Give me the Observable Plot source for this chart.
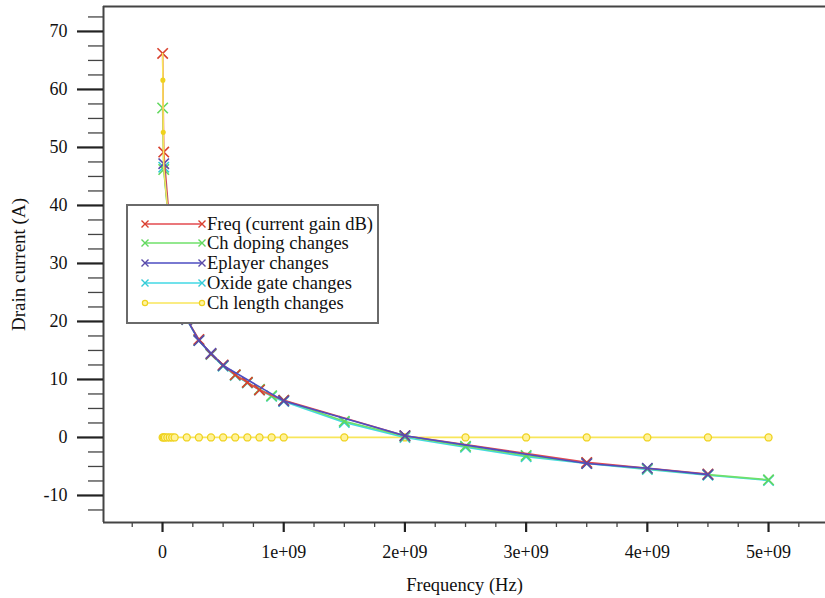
<!DOCTYPE html>
<html><head><meta charset="utf-8">
<script src="https://cdn.jsdelivr.net/npm/d3@7"></script>
<script src="https://cdn.jsdelivr.net/npm/@observablehq/plot@0.6"></script>
<style>
body{margin:0;background:#fff;}
#wrap{position:relative;width:825px;height:598px;background:#fff;}
</style></head><body><div id="wrap"></div>
<script>
// ---- data (frequency in Hz, value in dB) ----
const seriesNames = ["Freq (current gain dB)", "Ch doping changes", "Eplayer changes", "Oxide gate changes", "Ch length changes"];
const lineColors = ["#e34a4f", "#6fe06a", "#4d4dc2", "#42d9e4", "#f8e65a"];
const markColors = ["#d9412e", "#62d85e", "#5a4aa8", "#35cbd6", "#efd21e"];

const freqGain = [[1e6,66.2],[1e7,49.2],[1e8,26.4],[2e8,20.4],[3e8,16.9],[4e8,14.4],[5e8,12.5],[6e8,10.8],[7e8,9.5],[8e8,8.2],[1e9,6.4],[2e9,0.3],[3.5e9,-4.3],[4.5e9,-6.3]];
const chDoping = [[1e6,56.8],[1e7,46.2],[1e8,26.4],[2e8,20.4],[3e8,16.8],[4e8,14.4],[5e8,12.4],[6e8,10.8],[7e8,9.5],[8e8,8.3],[9e8,7.2],[1e9,6.4],[1.5e9,2.8],[2e9,0.2],[2.5e9,-1.5],[3e9,-3.1],[3.5e9,-4.4],[4e9,-5.4],[4.5e9,-6.4],[5e9,-7.3]];
const eplayer = [[1e7,47.2],[1e8,26.4],[2e8,20.4],[3e8,16.7],[4e8,14.5],[5e8,12.4],[1e9,6.3],[2e9,0.3],[3.5e9,-4.5],[4e9,-5.3],[4.5e9,-6.4]];
const oxideGate = [[1e7,46.6],[1e8,26.3],[2e8,20.3],[3e8,16.7],[4e8,14.3],[5e8,12.3],[6e8,10.7],[7e8,9.4],[8e8,8.2],[9e8,7.1],[1e9,6.2],[1.5e9,2.6],[2e9,0.0],[2.5e9,-1.7],[3e9,-3.3],[3.5e9,-4.5],[4e9,-5.5],[4.5e9,-6.5],[5e9,-7.4]];
const chLengthCurve = [[1e6,66.2],[3e6,61.6],[6e6,52.6],[1e7,46.6],[1e8,26.4],[2e8,20.4]];
const chLengthFlat = [[1e6,0],[1e7,0],[2e7,0],[4e7,0],[6e7,0],[8e7,0],[1e8,0],[2e8,0],[3e8,0],[4e8,0],[5e8,0],[6e8,0],[7e8,0],[8e8,0],[9e8,0],[1e9,0],[1.5e9,0],[2e9,0],[2.5e9,0],[3e9,0],[3.5e9,0],[4e9,0],[4.5e9,0],[5e9,0]];

// ---- axes ----
const xMajorTicks = [0, 1e9, 2e9, 3e9, 4e9, 5e9];
const xTickLabels = ["0", "1e+09", "2e+09", "3e+09", "4e+09", "5e+09"];
const xMinorTicks = [-0.25e9,0.25e9,0.5e9,0.75e9,1.25e9,1.5e9,1.75e9,2.25e9,2.5e9,2.75e9,3.25e9,3.5e9,3.75e9,4.25e9,4.5e9,4.75e9,5.25e9];
const yMajorTicks = [-10, 0, 10, 20, 30, 40, 50, 60, 70];
const yTickLabels = ["-10", "0", "10", "20", "30", "40", "50", "60", "70"];
const yMinorTicks = [-12.5,-7.5,-5,-2.5,2.5,5,7.5,12.5,15,17.5,22.5,25,27.5,32.5,35,37.5,42.5,45,47.5,52.5,55,57.5,62.5,65,67.5,72.5];
const xDomain = [-0.487e9, 5.47e9];
const yDomain = [-14.66, 74.3];
const xTitle = "Frequency (Hz)";
const yTitle = "Drain current (A)";

const toRows = (pts, name, seg) => pts.map(([x, y]) => ({x, y, name, seg}));
const S = [
  {i: 3, rows: toRows(oxideGate, seriesNames[3], "a")},
  {i: 1, rows: toRows(chDoping, seriesNames[1], "a")},
  {i: 0, rows: toRows(freqGain, seriesNames[0], "a")},
  {i: 2, rows: toRows(eplayer, seriesNames[2], "a")}
];
const yellowFlat = toRows(chLengthFlat, seriesNames[4], "flat");
const yellowCurve = toRows(chLengthCurve, seriesNames[4], "curve");

const font = "'Liberation Serif', 'Times New Roman', serif";
const marks = [];
marks.push(Plot.line(yellowFlat, {x: "x", y: "y", stroke: lineColors[4], strokeWidth: 1.7}));
marks.push(Plot.dot(yellowFlat, {x: "x", y: "y", r: 3.5, stroke: markColors[4], fill: "#fff29a", strokeWidth: 1.3}));
for (const s of S) {
  marks.push(Plot.line(s.rows, {x: "x", y: "y", stroke: lineColors[s.i], strokeWidth: 1.6}));
  marks.push(Plot.dot(s.rows, {x: "x", y: "y", symbol: "times", r: 4.8, stroke: markColors[s.i], strokeWidth: 1.6}));
}
marks.push(Plot.line(yellowCurve, {x: "x", y: "y", stroke: lineColors[4], strokeWidth: 1.6}));
marks.push(Plot.dot(yellowCurve.slice(1, 3), {x: "x", y: "y", r: 1.8, stroke: markColors[4], fill: markColors[4]}));

// frame lines
marks.push(Plot.ruleX([xDomain[0]], {stroke: "#444", strokeWidth: 2}));
marks.push(Plot.ruleY([yDomain[0], yDomain[1]], {stroke: "#444", strokeWidth: 2}));

// axes
marks.push(Plot.axisY({ticks: yMinorTicks, tickSize: 15, tickFormat: () => "", stroke: "#444", strokeWidth: 1.3, label: null}));
marks.push(Plot.axisY({ticks: yMajorTicks, tickSize: 26, tickPadding: 10, tickFormat: d => yTickLabels[yMajorTicks.indexOf(d)], stroke: "#222", strokeWidth: 2.2, fill: "#111", fontSize: 18, fontFamily: font, label: null}));
marks.push(Plot.axisX({ticks: xMinorTicks, tickSize: 5, tickFormat: () => "", stroke: "#444", strokeWidth: 1.3, label: null}));
marks.push(Plot.axisX({ticks: xMajorTicks, tickSize: 10, tickPadding: 13, tickFormat: d => xTickLabels[xMajorTicks.indexOf(d)], stroke: "#222", strokeWidth: 2.2, fill: "#111", fontSize: 18, fontFamily: font, label: null}));

// axis titles
marks.push(Plot.text([xTitle], {frameAnchor: "bottom", dy: 63, fontSize: 18.5, fontFamily: font, fill: "#111", textAnchor: "middle", lineAnchor: "middle"}));
marks.push(Plot.text([yTitle], {frameAnchor: "left", dx: -85, rotate: -90, fontSize: 19, fontFamily: font, fill: "#111", textAnchor: "middle", lineAnchor: "middle"}));

const chart = Plot.plot({
  width: 825, height: 598,
  marginLeft: 103, marginRight: 0, marginTop: 6, marginBottom: 76,
  x: {domain: xDomain, axis: null, label: null},
  y: {domain: yDomain, axis: null, label: null},
  style: {fontFamily: font, background: "#fff", overflow: "visible"},
  marks
});
document.getElementById("wrap").appendChild(chart);

// legend (overlaid box)
const lg = d3.select("#wrap").append("svg")
  .attr("width", 253).attr("height", 120)
  .style("position", "absolute").style("left", "126px").style("top", "204px");
lg.append("rect").attr("x", 1).attr("y", 1).attr("width", 251).attr("height", 118)
  .attr("fill", "#fff").attr("stroke", "#6a6a6a").attr("stroke-width", 2);
const rowY = [20, 39, 59, 79, 99];
seriesNames.forEach((name, i) => {
  const g = lg.append("g");
  g.append("line").attr("x1", 19).attr("x2", 76).attr("y1", rowY[i]).attr("y2", rowY[i])
    .attr("stroke", lineColors[i]).attr("stroke-width", 1.6);
  [19, 76].forEach(cx => {
    if (i === 4) {
      g.append("circle").attr("cx", cx).attr("cy", rowY[i]).attr("r", 2.6)
        .attr("fill", "#fff3a0").attr("stroke", markColors[4]).attr("stroke-width", 1.2);
    } else {
      g.append("path").attr("d", `M${cx-3.5},${rowY[i]-3.5}L${cx+3.5},${rowY[i]+3.5}M${cx-3.5},${rowY[i]+3.5}L${cx+3.5},${rowY[i]-3.5}`)
        .attr("stroke", markColors[i]).attr("stroke-width", 1.4);
    }
  });
  g.append("text").attr("x", 81).attr("y", rowY[i]).attr("dy", "0.35em")
    .attr("font-family", font).attr("font-size", 18.5).attr("fill", "#111").text(name);
});
</script></body></html>
